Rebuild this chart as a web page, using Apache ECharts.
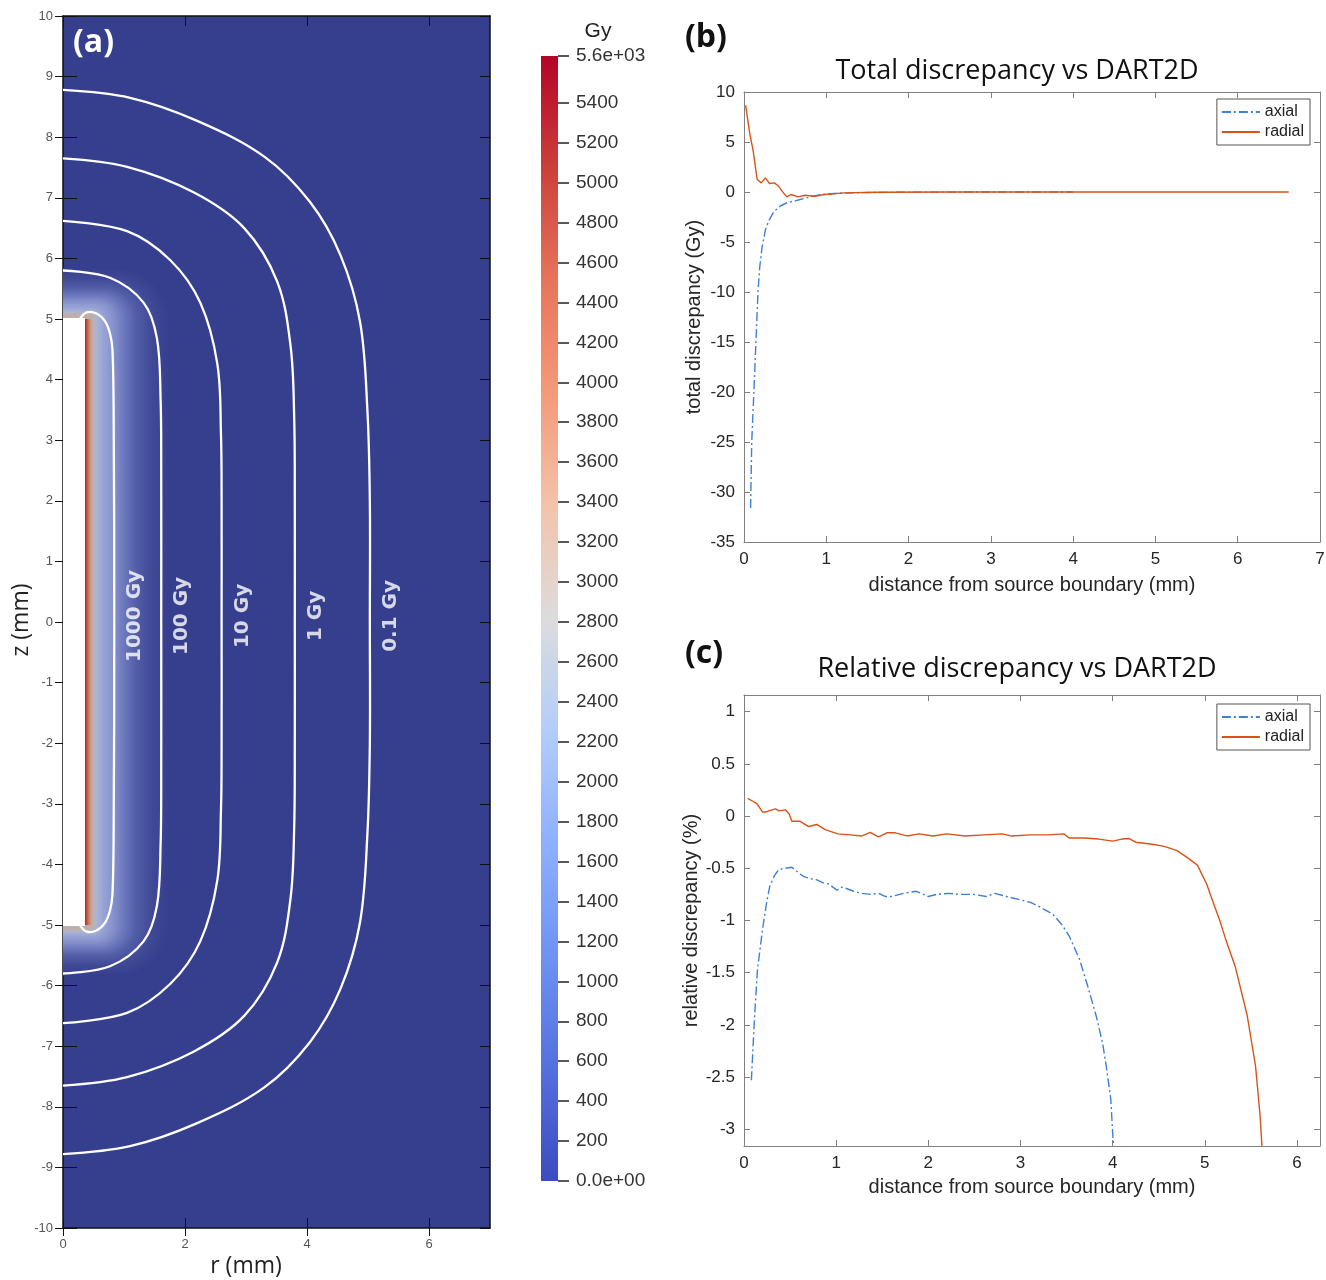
<!DOCTYPE html>
<html>
<head>
<meta charset="utf-8">
<script src="https://cdn.jsdelivr.net/npm/echarts@6/dist/echarts.min.js"></script>
<style>
  html, body { margin: 0; padding: 0; background: #fff; }
  #chart { width: 1326px; height: 1280px; }
</style>
</head>
<body>
<div id="chart"></div>
<script>
// ---------- (a) dose map ----------
const sourceR = 0.36;          // source radius (mm)
const sourceZ = [-5, 5];       // source ends (mm)
const contourNames = ['1000 Gy', '100 Gy', '10 Gy', '1 Gy', '0.1 Gy'];
// upper half of each iso-dose line, [r, z] mm, mirrored below z = 0
const iso1000 = [[0.28, 5.01], [0.39, 5.11], [0.55, 5.09], [0.69, 4.96], [0.77, 4.76], [0.81, 4.5], [0.83, 3.5], [0.84, 0]];
const iso100 = [[0, 5.8], [0.77, 5.68], [1.32, 5.27], [1.54, 4.68], [1.6, 3.67], [1.61, 2.5], [1.61, 0]];
const iso10 = [[0, 6.62], [1.05, 6.45], [1.76, 5.97], [2.25, 5.27], [2.53, 4.26], [2.59, 3.09], [2.6, 2], [2.6, 0]];
const iso1 = [[0, 7.65], [1.05, 7.51], [2.14, 7.09], [2.97, 6.5], [3.51, 5.62], [3.73, 4.56], [3.79, 3.38], [3.8, 2], [3.8, 0]];
const iso01 = [[0, 8.78], [1.1, 8.65], [2.2, 8.27], [3.3, 7.68], [4.05, 6.93], [4.55, 6.05], [4.87, 4.95], [4.99, 3.5], [5.03, 2], [5.03, 0]];
const isoLines = [iso1000, iso100, iso10, iso1, iso01];
const rTicks = [0, 2, 4, 6];
const doseMax = 5634;
const doseTicks = [0, 200, 400, 600, 800, 1000, 1200, 1400, 1600, 1800, 2000, 2200, 2400, 2600, 2800,
  3000, 3200, 3400, 3600, 3800, 4000, 4200, 4400, 4600, 4800, 5000, 5200, 5400, 5634];

// ---------- (b) total discrepancy ----------
const totalAxial = [[0.08, -31.6], [0.094, -25], [0.12, -20], [0.15, -14], [0.17, -10], [0.19, -7.6], [0.22, -5.5],
  [0.26, -3.8], [0.3, -2.9], [0.36, -2.0], [0.44, -1.4], [0.53, -1.05], [0.66, -0.8], [0.8, -0.5], [0.93, -0.25],
  [1.1, -0.15], [1.4, -0.06], [2.0, -0.02], [3.0, 0], [4.0, 0]];
const totalRadial = [[0.02, 8.67], [0.07, 5.84], [0.11, 4.18], [0.16, 1.25], [0.21, 0.91], [0.26, 1.41], [0.31, 0.85],
  [0.37, 0.91], [0.42, 0.58], [0.47, 0.01], [0.52, -0.49], [0.57, -0.25], [0.66, -0.49], [0.74, -0.32], [0.86, -0.42],
  [0.98, -0.25], [1.22, -0.09], [1.6, -0.03], [2.5, 0], [4.0, 0], [5.5, 0], [6.62, 0]];

// ---------- (c) relative discrepancy ----------
const relAxial = [[0.08, -2.53], [0.11, -2.0], [0.145, -1.48], [0.2, -1.09], [0.245, -0.83], [0.28, -0.67], [0.33, -0.57],
  [0.38, -0.51], [0.45, -0.5], [0.52, -0.49], [0.6, -0.55], [0.65, -0.58], [0.72, -0.6], [0.79, -0.61], [0.86, -0.64],
  [0.92, -0.65], [1.01, -0.71], [1.06, -0.68], [1.1, -0.69], [1.19, -0.72], [1.28, -0.74], [1.37, -0.75], [1.46, -0.74],
  [1.53, -0.77], [1.6, -0.77], [1.73, -0.74], [1.87, -0.72], [2.0, -0.77], [2.09, -0.75], [2.22, -0.74], [2.36, -0.75],
  [2.49, -0.75], [2.63, -0.77], [2.72, -0.74], [2.85, -0.77], [2.99, -0.8], [3.12, -0.83], [3.21, -0.87], [3.35, -0.94],
  [3.45, -1.04], [3.53, -1.15], [3.64, -1.37], [3.73, -1.63], [3.82, -1.91], [3.89, -2.17], [3.93, -2.39], [3.98, -2.71],
  [4.0, -3.03], [4.01, -3.16]];
const relRadial = [[0.04, 0.17], [0.1, 0.14], [0.14, 0.12], [0.2, 0.04], [0.24, 0.04], [0.27, 0.05], [0.34, 0.07],
  [0.38, 0.05], [0.45, 0.06], [0.49, 0.02], [0.52, -0.05], [0.61, -0.05], [0.7, -0.1], [0.79, -0.08], [0.88, -0.13],
  [1.02, -0.17], [1.15, -0.18], [1.28, -0.19], [1.37, -0.155], [1.46, -0.2], [1.55, -0.16], [1.64, -0.16], [1.77, -0.19],
  [1.9, -0.17], [2.05, -0.19], [2.2, -0.17], [2.4, -0.19], [2.6, -0.18], [2.8, -0.17], [2.9, -0.19], [3.1, -0.18],
  [3.3, -0.18], [3.47, -0.17], [3.53, -0.21], [3.7, -0.21], [3.85, -0.22], [4.0, -0.24], [4.1, -0.22], [4.18, -0.215],
  [4.25, -0.25], [4.43, -0.27], [4.56, -0.29], [4.7, -0.33], [4.83, -0.41], [4.92, -0.47], [5.02, -0.65], [5.1, -0.85],
  [5.17, -1.02], [5.23, -1.19], [5.33, -1.44], [5.46, -1.91], [5.55, -2.39], [5.6, -2.87], [5.62, -3.16]];
const relTicksX = [0, 1, 2, 3, 4, 5, 6];
const relTicksY = [-3, -2.5, -2, -1.5, -1, -0.5, 0, 0.5, 1];

const BLUE = '#3f7fd6';
const RED = '#d95319';
const BG = '#363f8d';
const coolwarm = [
  [0, '#3b4cc0'], [0.1, '#5470de'], [0.2, '#6f92f3'], [0.3, '#8db0fe'], [0.4, '#b3cdfa'],
  [0.5, '#dcdcdd'], [0.6, '#f3c3aa'], [0.7, '#f49a7b'], [0.8, '#e7745b'], [0.9, '#cc403a'], [1, '#b40426']
];
// glow colour vs distance (mm) from the source surface
const glowStops = [[0, '#a0202e'], [0.03, '#b8432f'], [0.08, '#c98a70'], [0.13, '#c2aea4'], [0.2, '#acb4d2'],
  [0.32, '#97a3d6'], [0.48, '#8691cc'], [0.65, '#6c78bd'], [0.85, '#535ea8'], [1.1, '#414a96'], [1.4, BG]];

function mirror(upper) {
  const lower = upper.slice(0, -1).reverse().map(p => [p[0], -p[1]]);
  return upper.concat(lower);
}

function hexRgb(h) {
  return [1, 3, 5].map(i => parseInt(h.substr(i, 2), 16));
}

function glowColor(w) {
  for (let i = 1; i < glowStops.length; i++) {
    const a = glowStops[i - 1], b = glowStops[i];
    if (w <= b[0]) {
      const t = (w - a[0]) / (b[0] - a[0]);
      const ca = hexRgb(a[1]), cb = hexRgb(b[1]);
      return 'rgb(' + ca.map((c, k) => Math.round(c + (cb[k] - c) * t)).join(',') + ')';
    }
  }
  return BG;
}

function renderSource(params, api) {
  const top = api.coord([sourceR, sourceZ[1]]);
  const bottom = api.coord([sourceR, sourceZ[0]]);
  const axisX = api.coord([0, 0])[0];
  const srcPx = top[0] - axisX;
  const mm = api.size([1, 0])[0];
  const children = [];
  for (let w = 1.4; w > 0; w -= 0.02) {
    const wPx = w * mm;
    // the hot red strip stays along the side, it does not wrap the ends
    const cap = w < 0.12 ? 0 : 0.6 * wPx;
    children.push({
      type: 'rect',
      shape: {x: axisX - srcPx - wPx, y: top[1] - cap, width: 2 * (srcPx + wPx), height: bottom[1] - top[1] + 2 * cap, r: cap},
      style: {fill: glowColor(w)}
    });
  }
  children.push({type: 'rect', shape: {x: axisX, y: top[1] - 1, width: srcPx, height: bottom[1] - top[1] + 2}, style: {fill: '#fff'}});
  return {type: 'group', children: children};
}

function renderContour(params, api) {
  const pts = mirror(isoLines[params.dataIndex]).map(p => api.coord(p));
  return {
    type: 'polyline',
    shape: {points: pts, smooth: 0.35},
    style: {stroke: '#fff', lineWidth: 2.3, fill: null}
  };
}

function renderColorbar(params, api) {
  const p0 = api.coord([0, doseMax]);
  const p1 = api.coord([1, 0]);
  return {
    type: 'rect',
    shape: {x: p0[0], y: p0[1], width: p1[0] - p0[0], height: p1[1] - p0[1]},
    style: {
      fill: {
        type: 'linear', x: 0, y: 1, x2: 0, y2: 0,
        colorStops: coolwarm.map(c => ({offset: c[0], color: c[1]}))
      }
    }
  };
}

const aTickLabel = {color: '#555', fontSize: 13, fontFamily: 'Liberation Sans'};
const black = {color: '#111', width: 1};
const grey = {color: '#808080', width: 1};
const mlLabel = {color: '#262626', fontSize: 17, fontFamily: 'Liberation Sans', margin: 9};
const mlName = {color: '#262626', fontSize: 20, fontFamily: 'Liberation Sans'};

function boxAxis(extra) {
  return Object.assign({
    type: 'value',
    axisLine: {show: true, onZero: false, lineStyle: grey},
    axisTick: {show: true, inside: true, length: 6, lineStyle: grey},
    axisLabel: {show: false},
    splitLine: {show: false}
  }, extra);
}

function mapAxis(extra) {
  return Object.assign({
    type: 'value', gridIndex: 0,
    axisLine: {show: false, onZero: false},
    axisLabel: {show: false},
    splitLine: {show: false}
  }, extra);
}

const legendBase = {
  data: ['axial', 'radial'], orient: 'vertical', right: 16, itemWidth: 38, itemHeight: 16, itemGap: 4,
  padding: [5, 6, 5, 4], borderColor: '#555', borderWidth: 1, backgroundColor: '#fff',
  itemStyle: {color: 'rgba(0,0,0,0)', borderWidth: 0, borderColor: 'rgba(0,0,0,0)'},
  textStyle: {fontSize: 16, color: '#222', fontFamily: 'Liberation Sans'}
};

const chart = echarts.init(document.getElementById('chart'), null, {renderer: 'canvas'});
chart.setOption({
  animation: false,
  backgroundColor: '#fff',
  grid: [
    {left: 63, top: 16, width: 427, height: 1212, show: true, backgroundColor: BG, borderWidth: 0, outerBoundsMode: 'none'},
    {left: 541, top: 56, width: 17, height: 1125, outerBoundsMode: 'none'},
    {left: 744, top: 92, width: 576, height: 450, outerBoundsMode: 'none'},
    {left: 744, top: 695, width: 576, height: 451, outerBoundsMode: 'none'}
  ],
  xAxis: [
    mapAxis({min: 0, max: 7, position: 'bottom',
      axisLine: {show: true, onZero: false, lineStyle: {color: '#111', width: 1.5}},
      axisTick: {show: true, inside: false, length: 8, customValues: rTicks, lineStyle: black},
      axisLabel: Object.assign({margin: 10, customValues: rTicks}, aTickLabel)}),
    mapAxis({min: 0, max: 7, position: 'bottom',
      axisTick: {show: true, inside: true, length: 10, customValues: rTicks, lineStyle: black}}),
    mapAxis({min: 0, max: 7, position: 'top',
      axisLine: {show: true, onZero: false, lineStyle: {color: '#111', width: 1.5}},
      axisTick: {show: true, inside: true, length: 10, customValues: rTicks, lineStyle: black}}),
    {type: 'value', gridIndex: 1, min: 0, max: 1, show: false},
    boxAxis({gridIndex: 2, min: 0, max: 7, interval: 1, position: 'bottom',
      axisLabel: mlLabel, name: 'distance from source boundary (mm)', nameLocation: 'middle', nameGap: 33, nameTextStyle: mlName}),
    boxAxis({gridIndex: 2, min: 0, max: 7, interval: 1, position: 'top'}),
    boxAxis({gridIndex: 3, min: 0, max: 6.25, position: 'bottom',
      axisTick: {show: true, inside: true, length: 6, lineStyle: grey, customValues: relTicksX},
      axisLabel: Object.assign({customValues: relTicksX}, mlLabel),
      name: 'distance from source boundary (mm)', nameLocation: 'middle', nameGap: 31, nameTextStyle: mlName}),
    boxAxis({gridIndex: 3, min: 0, max: 6.25, position: 'top',
      axisTick: {show: true, inside: true, length: 6, lineStyle: grey, customValues: relTicksX}})
  ],
  yAxis: [
    mapAxis({min: -10, max: 10, interval: 1, position: 'left',
      axisLine: {show: true, onZero: false, lineStyle: {color: '#111', width: 1.5}},
      axisTick: {show: true, inside: false, length: 8, lineStyle: black},
      axisLabel: Object.assign({margin: 10}, aTickLabel)}),
    mapAxis({min: -10, max: 10, interval: 1, position: 'left',
      axisTick: {show: true, inside: true, length: 14, lineStyle: black}}),
    mapAxis({min: -10, max: 10, interval: 1, position: 'right',
      axisLine: {show: true, onZero: false, lineStyle: {color: '#111', width: 1.5}},
      axisTick: {show: true, inside: true, length: 10, lineStyle: black}}),
    {type: 'value', gridIndex: 1, min: 0, max: doseMax, position: 'right',
      axisLine: {show: false, onZero: false},
      axisTick: {show: true, inside: false, length: 11, customValues: doseTicks, lineStyle: {color: '#222', width: 1.5}},
      axisLabel: {margin: 18, customValues: doseTicks, color: '#333', fontSize: 19, fontFamily: 'Liberation Sans',
        formatter: v => v === 0 ? '0.0e+00' : (v === doseMax ? '5.6e+03' : String(v))},
      splitLine: {show: false}},
    boxAxis({gridIndex: 2, min: -35, max: 10, interval: 5, position: 'left',
      axisLabel: mlLabel, name: 'total discrepancy (Gy)', nameLocation: 'middle', nameGap: 40, nameTextStyle: mlName}),
    boxAxis({gridIndex: 2, min: -35, max: 10, interval: 5, position: 'right'}),
    boxAxis({gridIndex: 3, min: -3.16, max: 1.16, position: 'left',
      axisTick: {show: true, inside: true, length: 6, lineStyle: grey, customValues: relTicksY},
      axisLabel: Object.assign({customValues: relTicksY}, mlLabel),
      name: 'relative discrepancy (%)', nameLocation: 'middle', nameGap: 29, nameTextStyle: mlName}),
    boxAxis({gridIndex: 3, min: -3.16, max: 1.16, position: 'right',
      axisTick: {show: true, inside: true, length: 6, lineStyle: grey, customValues: relTicksY}})
  ],
  legend: [
    Object.assign({top: 99}, legendBase),
    Object.assign({top: 704}, legendBase)
  ],
  graphic: [
    {type: 'text', left: 73, top: 27, style: {text: '(a)', fill: '#fff', fontSize: 32, fontWeight: 'bold', fontFamily: 'Open Sans'}},
    {type: 'text', left: 685, top: 22, style: {text: '(b)', fill: '#111', fontSize: 32, fontWeight: 'bold', fontFamily: 'Open Sans'}},
    {type: 'text', left: 685, top: 638, style: {text: '(c)', fill: '#111', fontSize: 32, fontWeight: 'bold', fontFamily: 'Open Sans'}},
    {type: 'text', x: 1017, y: 71, style: {text: 'Total discrepancy vs DART2D', fill: '#111', fontSize: 27, fontFamily: 'Open Sans', align: 'center', verticalAlign: 'middle'}},
    {type: 'text', x: 1017, y: 669, style: {text: 'Relative discrepancy vs DART2D', fill: '#111', fontSize: 27, fontFamily: 'Open Sans', align: 'center', verticalAlign: 'middle'}},
    {type: 'text', x: 598, y: 31, style: {text: 'Gy', fill: '#222', fontSize: 21, fontFamily: 'Liberation Sans', align: 'center', verticalAlign: 'middle'}},
    {type: 'text', x: 246, y: 1266, style: {text: 'r (mm)', fill: '#222', fontSize: 23, fontFamily: 'Open Sans', align: 'center', verticalAlign: 'middle'}},
    {type: 'text', x: 21, y: 620, rotation: Math.PI / 2, style: {text: 'z (mm)', fill: '#222', fontSize: 23, fontFamily: 'Open Sans', align: 'center', verticalAlign: 'middle'}}
  ],
  series: [
    {type: 'custom', xAxisIndex: 0, yAxisIndex: 0, clip: true, renderItem: renderSource, data: [[sourceR, sourceZ[1]]], z: 1, silent: true},
    {type: 'custom', xAxisIndex: 0, yAxisIndex: 0, clip: true, renderItem: renderContour,
      data: isoLines.map(l => l[l.length - 1]), z: 3, silent: true},
    {type: 'scatter', xAxisIndex: 0, yAxisIndex: 0, symbolSize: 1, itemStyle: {color: 'rgba(0,0,0,0)'}, z: 4,
      data: isoLines.map((l, i) => [l[l.length - 1][0] + 0.34, 0.1, contourNames[i]]),
      label: {show: true, position: 'inside', rotate: 90, formatter: p => p.data[2], color: '#fff',
        fontSize: 20, fontWeight: 'bold', fontFamily: 'DejaVu Sans'}},
    {type: 'custom', xAxisIndex: 3, yAxisIndex: 3, renderItem: renderColorbar, data: [[0, doseMax]]},
    {type: 'line', name: 'axial', xAxisIndex: 4, yAxisIndex: 4, data: totalAxial, symbol: 'none',
      lineStyle: {color: BLUE, width: 1.4, type: [9, 3, 2, 3]}, itemStyle: {color: BLUE}},
    {type: 'line', name: 'radial', xAxisIndex: 4, yAxisIndex: 4, data: totalRadial, symbol: 'none',
      lineStyle: {color: RED, width: 1.4}, itemStyle: {color: RED}},
    {type: 'line', name: 'axial', xAxisIndex: 6, yAxisIndex: 6, data: relAxial, symbol: 'none',
      lineStyle: {color: BLUE, width: 1.4, type: [9, 3, 2, 3]}, itemStyle: {color: BLUE}},
    {type: 'line', name: 'radial', xAxisIndex: 6, yAxisIndex: 6, data: relRadial, symbol: 'none',
      lineStyle: {color: RED, width: 1.4}, itemStyle: {color: RED}}
  ]
});
</script>
</body>
</html>
